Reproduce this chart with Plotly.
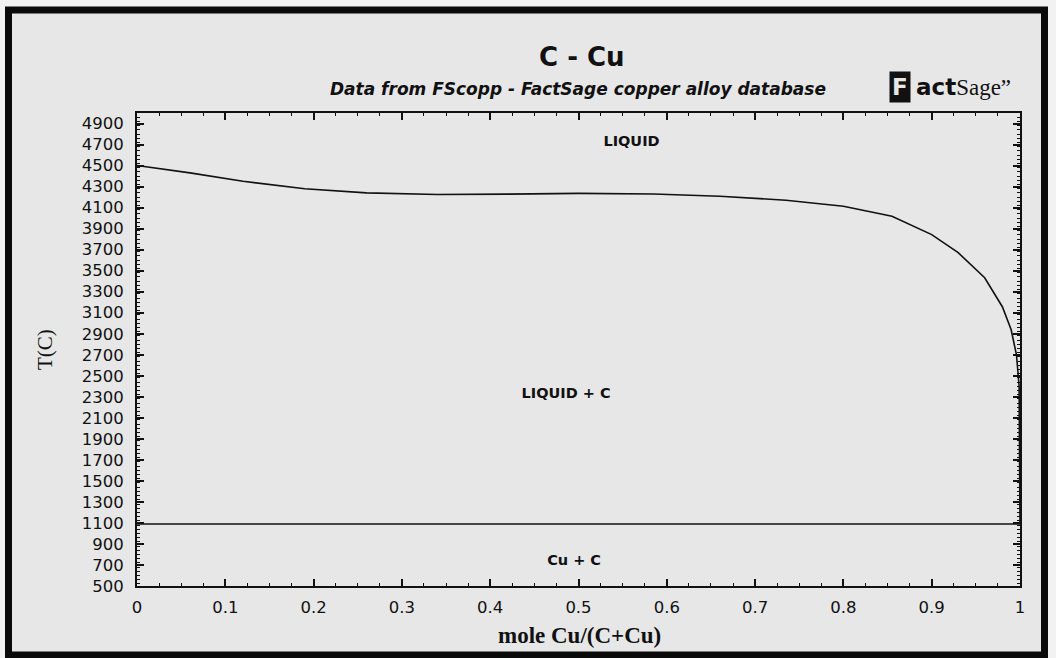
import plotly.graph_objects as go

# C - Cu phase diagram (FactSage, FScopp database)
# Liquidus: graphite saturation boundary, mole fraction Cu vs temperature (C)
liquidus_x = [0.0, 0.06, 0.12, 0.19, 0.26, 0.34, 0.42, 0.50, 0.585, 0.66,
              0.735, 0.80, 0.855, 0.90, 0.93, 0.96, 0.98, 0.99, 0.996, 0.999, 1.0]
liquidus_t = [4500, 4430, 4350, 4280, 4240, 4225, 4228, 4235, 4230, 4208,
              4170, 4113, 4017, 3843, 3671, 3433, 3157, 2938, 2700, 2400, 1090]

# Eutectic isotherm (Cu melting, graphite present)
eutectic_x = [0.0, 1.0]
eutectic_t = [1090, 1090]

# Phase field labels
region_names = ["LIQUID", "LIQUID + C", "Cu + C"]
region_x = [0.56, 0.486, 0.495]
region_t = [4720, 2320, 730]

y_ticks = list(range(500, 5000, 200))
x_ticks = [0, 0.1, 0.2, 0.3, 0.4, 0.5, 0.6, 0.7, 0.8, 0.9, 1.0]
x_tick_text = ["0", "0.1", "0.2", "0.3", "0.4", "0.5", "0.6", "0.7", "0.8", "0.9", "1"]

W, H = 1056, 658
ML, MR, MT, MB = 137, 36, 113, 72
PW, PH = W - ML - MR, H - MT - MB


def px(x):
    return (x - ML) / PW


def py(y):
    return (H - MB - y) / PH


SANS = "DejaVu Sans"
SERIF = "Liberation Serif"

fig = go.Figure()
fig.add_trace(go.Scatter(x=liquidus_x, y=liquidus_t, mode="lines",
                         line=dict(color="#111111", width=1.6),
                         showlegend=False, hoverinfo="skip"))
fig.add_trace(go.Scatter(x=eutectic_x, y=eutectic_t, mode="lines",
                         line=dict(color="#111111", width=1.6),
                         showlegend=False, hoverinfo="skip"))
fig.add_trace(go.Scatter(x=region_x, y=region_t, mode="text",
                         text=["<b>%s</b>" % n for n in region_names],
                         textfont=dict(family=SANS, size=14.5, color="#111111"),
                         showlegend=False, hoverinfo="skip"))

axis_common = dict(
    showgrid=False, zeroline=False, showline=True, linecolor="#111111",
    linewidth=2, mirror="allticks", ticks="inside", tickcolor="#111111",
    tickwidth=1.5, ticklen=7,
    tickfont=dict(family=SANS, size=16.5, color="#111111"),
)

fig.update_xaxes(range=[0, 1], tickvals=x_ticks, ticktext=x_tick_text,
                 minor=dict(dtick=0.025, ticks="inside", ticklen=3,
                            tickcolor="#111111", tickwidth=1.2),
                 ticklabelstandoff=5, **axis_common)
fig.update_yaxes(range=[500, 5000], tickvals=y_ticks,
                 minor=dict(dtick=40, ticks="inside", ticklen=3,
                            tickcolor="#111111", tickwidth=1.2),
                 ticklabelstandoff=8, **axis_common)

annotations = [
    dict(x=px(582), y=py(57), text="<b>C - Cu</b>",
         font=dict(family=SANS, size=26, color="#111111")),
    dict(x=px(578), y=py(89),
         text="<b><i>Data from FScopp - FactSage copper alloy database</i></b>",
         font=dict(family=SANS, size=17, color="#111111")),
    dict(x=px(900), y=py(87), text="<b>F</b>", bgcolor="#111111",
         borderpad=2, font=dict(family=SANS, size=23, color="#e7e7e7")),
    dict(x=px(914), y=py(87), xanchor="left",
         text=("<b>act</b><span style=\"font-family:'Liberation Serif'\">"
               "Sage\u201d</span>"),
         font=dict(family=SANS, size=23, color="#111111")),
    dict(x=px(45), y=py(350), text="T(C)", textangle=-90,
         font=dict(family=SERIF, size=21, color="#111111")),
    dict(x=px(579), y=py(635), text="<b>mole Cu/(C+Cu)</b>",
         font=dict(family=SERIF, size=23, color="#111111")),
]
for a in annotations:
    a.setdefault("xanchor", "center")
    a.update(xref="paper", yref="paper", yanchor="middle", showarrow=False)

# Heavy outer frame around the whole chart
fig.add_shape(type="rect", xref="paper", yref="paper", layer="below",
              x0=px(8.5), x1=px(1044.5), y0=py(655), y1=py(10),
              line=dict(color="#0a0a0a", width=7), fillcolor="#e7e7e7")

fig.update_layout(
    width=W, height=H, autosize=False,
    margin=dict(l=ML, r=MR, t=MT, b=MB),
    paper_bgcolor="#f2f2f2", plot_bgcolor="rgba(0,0,0,0)",
    annotations=annotations, showlegend=False,
)

fig.write_html("out.html")
